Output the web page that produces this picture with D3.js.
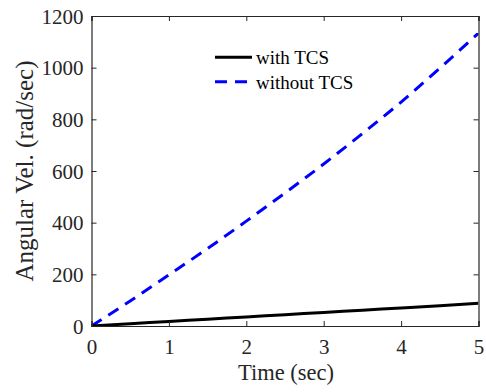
<!DOCTYPE html>
<html>
<head>
<meta charset="utf-8">
<script src="https://cdn.jsdelivr.net/npm/d3@7"></script>
<style>
html,body{margin:0;padding:0;background:#fff;}
svg{display:block;}
svg text{font-family:'Liberation Serif' !important;}
</style>
</head>
<body>
<script>
// Data
const time = [0, 0.5, 1, 1.5, 2, 2.5, 3, 3.5, 4, 4.5, 5];
const withTCS = [0, 8.8, 17.5, 26.3, 35, 43.8, 52.5, 61.3, 70, 78.8, 88];
const withoutTCS = [0, 97, 198, 300, 406, 515, 627, 745, 867, 998, 1134];
const xTicks = [0, 1, 2, 3, 4, 5];
const yTicks = [0, 200, 400, 600, 800, 1000, 1200];
const seriesNames = ["with TCS", "without TCS"];
const xLabel = "Time (sec)";
const yLabel = "Angular Vel. (rad/sec)";

const W = 486, H = 392;
const L = 91.5, R = 478.5, T = 16, B = 326;
const FONT = "Liberation Serif";

const svg = d3.select("body").append("svg").attr("width", W).attr("height", H);

const x = d3.scaleLinear().domain([0, 5]).range([L, R]);
const y = d3.scaleLinear().domain([0, 1200]).range([B, T]);

const axisColor = "#262626";
const tickLen = 5;

const line = d3.line().x(d => x(d[0])).y(d => y(d[1])).curve(d3.curveMonotoneX);

svg.append("clipPath").attr("id", "clip").append("rect")
  .attr("x", L).attr("y", T).attr("width", R - L).attr("height", B - T);

const g = svg.append("g").attr("clip-path", "url(#clip)");
g.append("path")
  .datum(time.map((t, i) => [t, withoutTCS[i]]))
  .attr("d", line).attr("fill", "none").attr("stroke", "#0000ff")
  .attr("stroke-width", 3).attr("stroke-dasharray", "12,8");
g.append("path")
  .datum(time.map((t, i) => [t, withTCS[i]]))
  .attr("d", line).attr("fill", "none").attr("stroke", "#000")
  .attr("stroke-width", 3);

const xAxisB = d3.axisBottom(x).tickValues(xTicks).tickSize(-tickLen).tickFormat(d3.format("d"));
const xAxisT = d3.axisTop(x).tickValues(xTicks).tickSize(-tickLen).tickFormat("");
const yAxisL = d3.axisLeft(y).tickValues(yTicks).tickSize(-tickLen).tickFormat(d3.format("d"));
const yAxisR = d3.axisRight(y).tickValues(yTicks).tickSize(-tickLen).tickFormat("");

function style(sel) {
  sel.attr("font-family", FONT).attr("font-size", 21);
  sel.select(".domain").attr("stroke", axisColor).attr("stroke-width", 1.2);
  sel.selectAll(".tick line").attr("stroke", axisColor).attr("stroke-width", 1);
  sel.selectAll(".tick text").attr("font-size", 21).attr("fill", axisColor);
}
const gxb = svg.append("g").attr("transform", `translate(0,${B})`).call(xAxisB).call(style);
gxb.selectAll(".tick text").attr("y", 28).attr("dy", null);
svg.append("g").attr("transform", `translate(0,${T})`).call(xAxisT).call(style);
const gyl = svg.append("g").attr("transform", `translate(${L},0)`).call(yAxisL).call(style);
gyl.selectAll(".tick text").attr("x", -8).attr("dy", null).attr("y", 7);
svg.append("g").attr("transform", `translate(${R},0)`).call(yAxisR).call(style);

svg.append("text").attr("x", 286).attr("y", 380)
  .attr("text-anchor", "middle").attr("font-family", FONT)
  .attr("font-size", 22.5).attr("fill", axisColor).text(xLabel);
svg.append("text").attr("transform", `translate(33,171) rotate(-90)`)
  .attr("text-anchor", "middle").attr("font-family", FONT)
  .attr("font-size", 25).attr("fill", axisColor).text(yLabel);

const legend = svg.append("g");
const legY = [57.3, 81.7];
const legStyles = [{c: "#000", d: null}, {c: "#0000ff", d: "12,8"}];
seriesNames.forEach((n, i) => {
  const ln = legend.append("line").attr("x1", 215).attr("x2", 252)
    .attr("y1", legY[i]).attr("y2", legY[i])
    .attr("stroke", legStyles[i].c).attr("stroke-width", 3);
  if (legStyles[i].d) ln.attr("stroke-dasharray", legStyles[i].d);
  legend.append("text").attr("x", 256).attr("y", legY[i] + 6.8)
    .attr("font-family", FONT).attr("font-size", 19).attr("fill", "#000").text(n);
});
</script>
</body>
</html>
